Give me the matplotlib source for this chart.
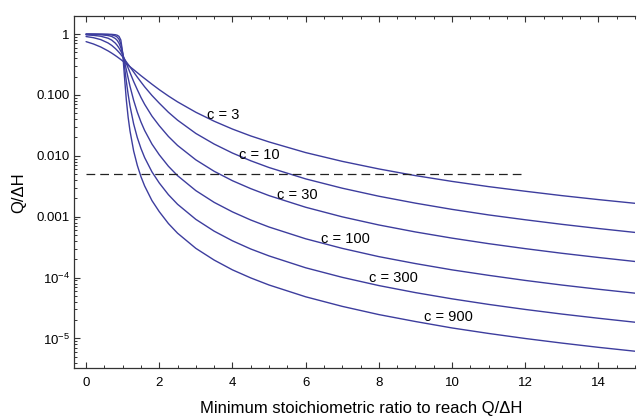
import matplotlib
matplotlib.use('Agg')
import matplotlib.pyplot as plt
from matplotlib.ticker import FixedLocator, FixedFormatter, LogLocator, NullFormatter, MultipleLocator

# ---- data ----
x = [0, 0.2, 0.4, 0.6, 0.7, 0.8, 0.85, 0.9, 0.95, 1.0, 1.05, 1.1, 1.15, 1.2, 1.3, 1.4,
     1.5, 1.6, 1.8, 2.0, 2.25, 2.5, 3.0, 3.5, 4.0, 4.5, 5, 6, 7, 8, 9, 10, 11, 12, 13, 14, 15]

q_c3 = [0.750, 0.687, 0.613, 0.529, 0.486, 0.443, 0.422, 0.401, 0.381, 0.361, 0.342, 0.324,
        0.307, 0.290, 0.260, 0.232, 0.207, 0.186, 0.150, 0.122, 0.0960, 0.0769, 0.0519, 0.0370,
        0.0275, 0.0212, 0.0169, 0.0113, 0.00811, 0.00609, 0.00473, 0.00380, 0.00312, 0.00262,
        0.00222, 0.00191, 0.00166]
q_c10 = [0.909, 0.871, 0.810, 0.714, 0.651, 0.578, 0.539, 0.500, 0.461, 0.422, 0.385, 0.349,
         0.318, 0.289, 0.238, 0.196, 0.163, 0.136, 0.0980, 0.0732, 0.0519, 0.0385, 0.0233, 0.0156,
         0.0111, 0.00829, 0.00642, 0.00418, 0.00294, 0.00217, 0.00167, 0.00132, 0.00107,
         0.000891, 0.000750, 0.000640, 0.000552]
q_c30 = [0.968, 0.951, 0.920, 0.854, 0.795, 0.708, 0.652, 0.590, 0.523, 0.455, 0.389, 0.329,
         0.277, 0.233, 0.166, 0.122, 0.0909, 0.0701, 0.0449, 0.0312, 0.0208, 0.0148, 0.00858,
         0.00557, 0.00390, 0.00289, 0.00222, 0.00143, 0.000995, 0.000732, 0.000562, 0.000445,
         0.000361, 0.000299, 0.000251, 0.000214, 0.000184]
q_c100 = [0.990, 0.985, 0.974, 0.945, 0.912, 0.844, 0.787, 0.705, 0.598, 0.475, 0.356, 0.259,
          0.189, 0.139, 0.0815, 0.0521, 0.0359, 0.0261, 0.0156, 0.0104, 0.00674, 0.00472,
          0.00268, 0.00172, 0.00120, 0.000883, 0.000677, 0.000434, 0.000302, 0.000221,
          0.000170, 0.000134, 0.000109, 0.0000899, 0.0000755, 0.0000644, 0.0000555]
q_c300 = [0.997, 0.995, 0.991, 0.980, 0.966, 0.931, 0.893, 0.821, 0.687, 0.486, 0.290, 0.167,
          0.102, 0.0659, 0.0334, 0.0199, 0.0132, 0.00936, 0.00545, 0.00358, 0.00230, 0.00160,
          0.000904, 0.000579, 0.000402, 0.000295, 0.000227, 0.000145, 0.000101, 0.0000740,
          0.0000567, 0.0000448, 0.0000363, 0.0000300, 0.0000252, 0.0000215, 0.0000185]
q_c900 = [0.999, 0.998, 0.997, 0.993, 0.988, 0.974, 0.956, 0.915, 0.796, 0.492, 0.196, 0.0826,
          0.0427, 0.0257, 0.0120, 0.00697, 0.00454, 0.00320, 0.00184, 0.00121, 0.000772,
          0.000536, 0.000302, 0.000194, 0.000134, 0.0000988, 0.0000756, 0.0000484, 0.0000337,
          0.0000247, 0.0000190, 0.0000149, 0.0000121, 0.0000100, 0.00000841, 0.00000716,
          0.00000618]

series = [q_c3, q_c10, q_c30, q_c100, q_c300, q_c900]
labels = ["c = 3", "c = 10", "c = 30", "c = 100", "c = 300", "c = 900"]
label_x = [3.74, 4.73, 5.77, 7.09, 8.41, 9.89]
label_y = [0.0468, 0.0103, 0.00227, 0.000425, 0.0000974, 0.0000228]

threshold = 0.005
threshold_x = [0, 12]

ytick_vals = [1, 0.1, 0.01, 0.001, 1e-4, 1e-5]
ytick_labels = ["1", "0.100", "0.010", "0.001", r"$\mathregular{10^{-4}}$", r"$\mathregular{10^{-5}}$"]

# ---- style ----
plt.rcParams['font.family'] = ['Liberation Sans', 'DejaVu Sans']
plt.rcParams['mathtext.fontset'] = 'custom'
plt.rcParams['mathtext.rm'] = 'Liberation Sans'
plt.rcParams['mathtext.it'] = 'Liberation Sans:italic'
plt.rcParams['mathtext.bf'] = 'Liberation Sans:bold'

line_color = '#3d3d9e'
axis_color = '#333333'
fs = 9.5

fig = plt.figure(figsize=(6.38, 4.17), dpi=100)
ax = fig.add_axes([74/638, 1 - 368.3/417, (635 - 74)/638, (368.3 - 15.7)/417])

for s in series:
    ax.plot(x, s, color=line_color, lw=1.0, solid_capstyle='round')

ax.plot(threshold_x, [threshold, threshold], color='#222222', lw=0.9, dashes=(7, 4))

for t, lx, ly in zip(labels, label_x, label_y):
    ax.text(lx, ly, t, fontsize=10.5, ha='center', va='center', color='black')

ax.set_yscale('log')
ax.set_xlim(-0.33, 15)
ax.set_ylim(3.24e-6, 2.0)

ax.yaxis.set_major_locator(FixedLocator(ytick_vals))
ax.yaxis.set_major_formatter(FixedFormatter(ytick_labels))
ax.yaxis.set_minor_locator(LogLocator(base=10, subs=range(2, 10), numticks=20))
ax.yaxis.set_minor_formatter(NullFormatter())
ax.xaxis.set_major_locator(MultipleLocator(2))
ax.xaxis.set_minor_locator(MultipleLocator(0.5))

for side in ['left', 'bottom', 'top']:
    ax.spines[side].set_color(axis_color)
    ax.spines[side].set_linewidth(0.9)
ax.spines['right'].set_visible(False)

ax.tick_params(which='both', direction='in', colors=axis_color, top=True, right=False,
               labelsize=fs, labelcolor='black')
ax.tick_params(which='major', length=4, width=0.8)
ax.tick_params(which='minor', length=2.3, width=0.7)
ax.tick_params(axis='x', which='major', pad=6)
ax.tick_params(axis='y', which='major', pad=3)

fig.text(361/638, 1 - 413/417, "Minimum stoichiometric ratio to reach Q/ΔH",
         fontsize=12, ha='center', va='baseline')
fig.text(19/638, 1 - 192.5/417, "Q/ΔH", fontsize=12, rotation=90,
         ha='center', va='center')

fig.savefig('out.png', dpi=100)
